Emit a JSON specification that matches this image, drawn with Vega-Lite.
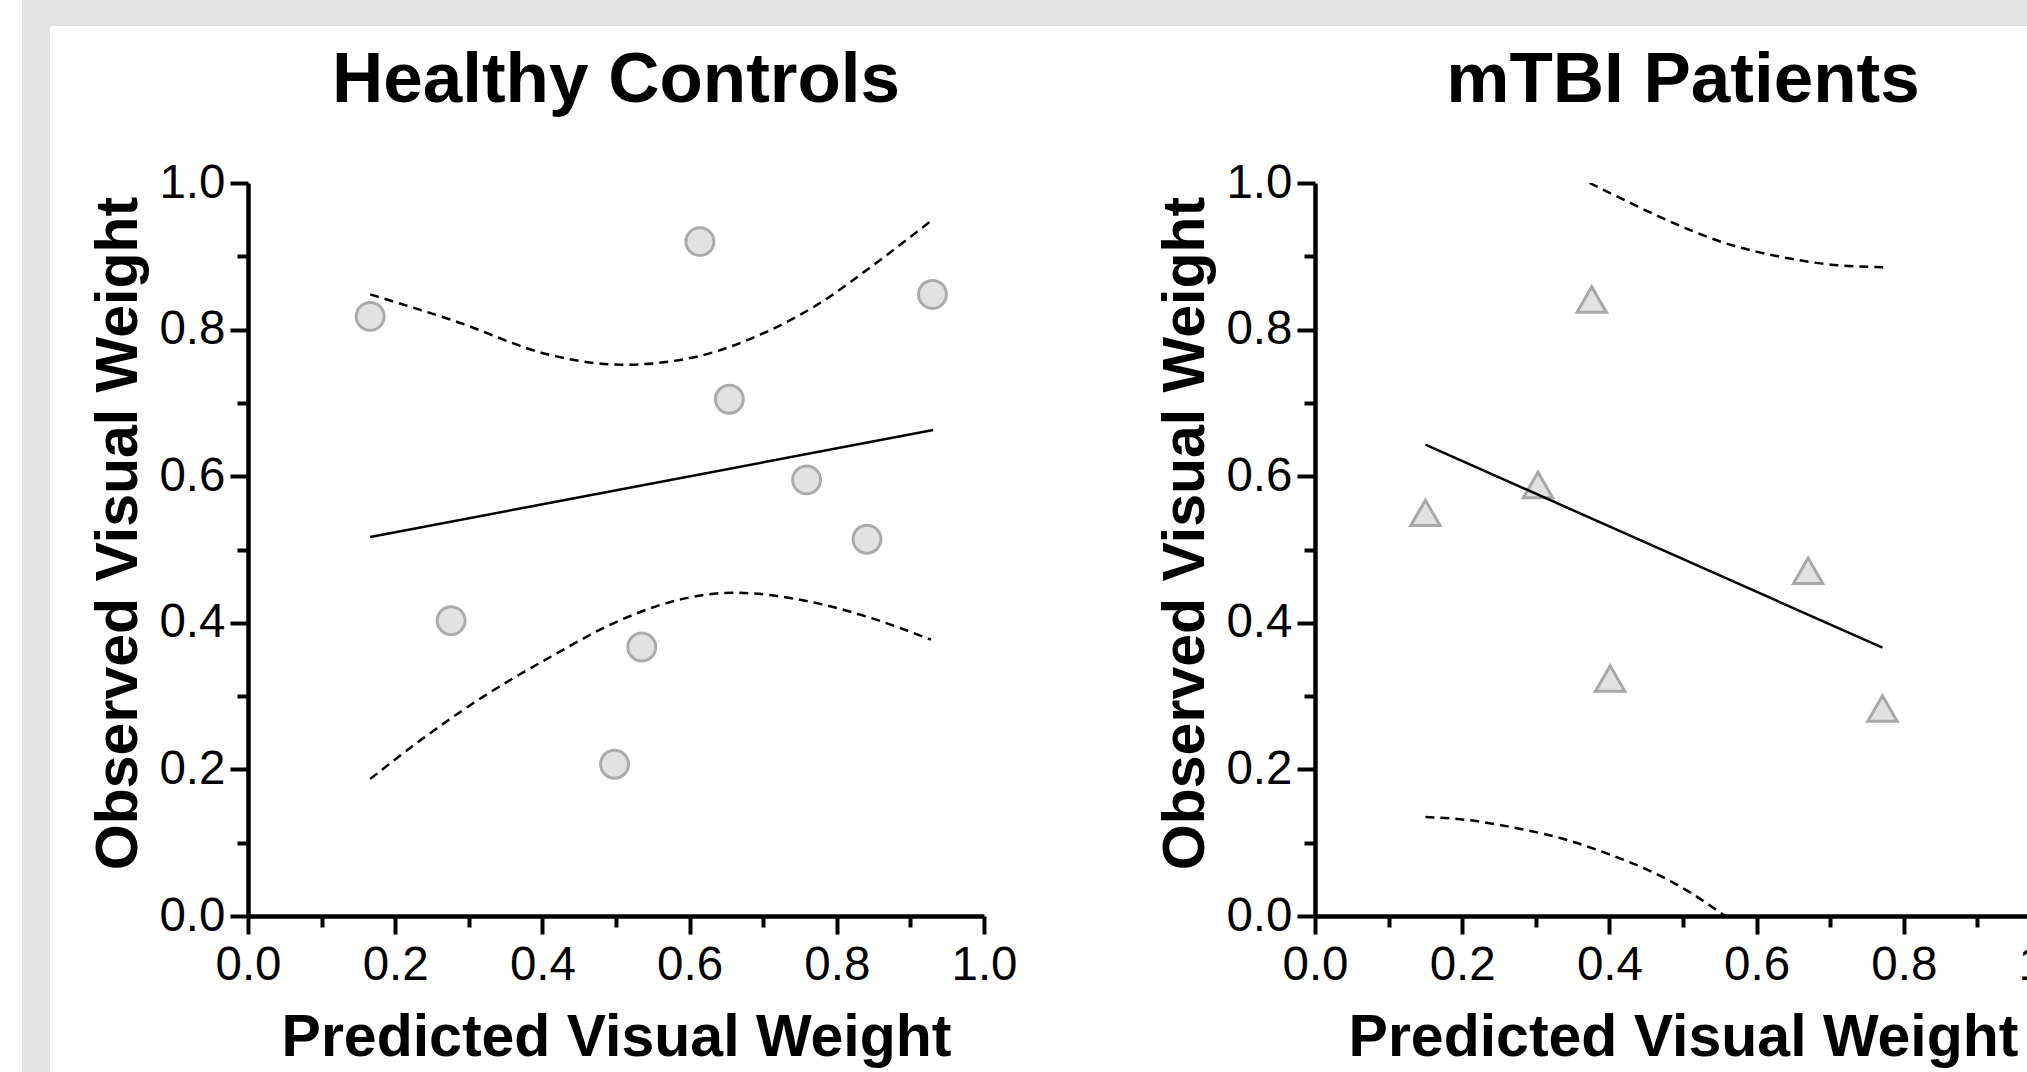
{
  "$schema": "https://vega.github.io/schema/vega-lite/v6.json",
  "background": "white",
  "padding": {"left": 22, "top": 0, "right": 0, "bottom": 0},
  "config": {
    "view": {"stroke": null},
    "axis": {
      "grid": false,
      "domainColor": "black",
      "domainWidth": 4.5,
      "tickColor": "black",
      "tickWidth": 4,
      "labelFont": "Liberation Sans",
      "labelFontSize": 47.5,
      "labelColor": "black",
      "titleFont": "Liberation Sans",
      "titleFontSize": 59,
      "titleFontWeight": "bold",
      "titleColor": "black",
      "labelFlush": false,
      "labelOverlap": false
    },
    "title": {
      "font": "Liberation Sans",
      "fontSize": 71,
      "fontWeight": "bold",
      "color": "black",
      "anchor": "middle",
      "frame": "group",
      "baseline": "alphabetic",
      "offset": 42.5
    }
  },
  "datasets": {
    "hc_pts": [
      {"x": 0.166, "y": 0.818}, {"x": 0.276, "y": 0.403}, {"x": 0.498, "y": 0.207},
      {"x": 0.535, "y": 0.367}, {"x": 0.614, "y": 0.920}, {"x": 0.654, "y": 0.705},
      {"x": 0.759, "y": 0.595}, {"x": 0.841, "y": 0.514}, {"x": 0.930, "y": 0.848}
    ],
    "hc_fit": [{"x": 0.166, "y": 0.517}, {"x": 0.931, "y": 0.663}],
    "hc_upper": [
      {"x": 0.166, "y": 0.848}, {"x": 0.280, "y": 0.812}, {"x": 0.412, "y": 0.765},
      {"x": 0.509, "y": 0.752}, {"x": 0.605, "y": 0.762}, {"x": 0.684, "y": 0.788},
      {"x": 0.772, "y": 0.833}, {"x": 0.851, "y": 0.889}, {"x": 0.930, "y": 0.950}
    ],
    "hc_lower": [
      {"x": 0.166, "y": 0.187}, {"x": 0.236, "y": 0.241}, {"x": 0.324, "y": 0.302},
      {"x": 0.412, "y": 0.354}, {"x": 0.500, "y": 0.401}, {"x": 0.588, "y": 0.432},
      {"x": 0.658, "y": 0.441}, {"x": 0.763, "y": 0.429}, {"x": 0.842, "y": 0.408},
      {"x": 0.928, "y": 0.377}
    ],
    "tbi_pts": [
      {"x": 0.150, "y": 0.550}, {"x": 0.303, "y": 0.588}, {"x": 0.376, "y": 0.841},
      {"x": 0.401, "y": 0.324}, {"x": 0.670, "y": 0.471}, {"x": 0.771, "y": 0.283}
    ],
    "tbi_fit": [{"x": 0.150, "y": 0.643}, {"x": 0.771, "y": 0.366}],
    "tbi_upper": [
      {"x": 0.373, "y": 1.0}, {"x": 0.426, "y": 0.974}, {"x": 0.470, "y": 0.953},
      {"x": 0.514, "y": 0.934}, {"x": 0.557, "y": 0.918}, {"x": 0.601, "y": 0.906},
      {"x": 0.645, "y": 0.897}, {"x": 0.689, "y": 0.890}, {"x": 0.772, "y": 0.885}
    ],
    "tbi_lower": [
      {"x": 0.150, "y": 0.135}, {"x": 0.207, "y": 0.131}, {"x": 0.268, "y": 0.121},
      {"x": 0.338, "y": 0.105}, {"x": 0.400, "y": 0.084}, {"x": 0.452, "y": 0.063},
      {"x": 0.505, "y": 0.035}, {"x": 0.557, "y": 0.0}
    ]
  },
  "spacing": 0,
  "hconcat": [
    {
      "width": 28, "height": 1072,
      "view": {"fill": "#e3e3e3", "stroke": null},
      "data": {"values": []},
      "mark": "point",
      "encoding": {}
    },
    {
      "spacing": 18,
      "vconcat": [
        {
          "width": 1977, "height": 26,
          "view": {"fill": "#e3e3e3", "stroke": null},
          "data": {"values": []},
          "mark": "point",
          "encoding": {}
        },
        {
          "spacing": 0,
          "hconcat": [
            {
              "width": 39, "height": 10,
              "data": {"values": []},
              "mark": "point",
              "encoding": {}
            },
            {
              "spacing": 331,
              "bounds": "flush",
              "hconcat": [
                {
                  "width": 736, "height": 733,
                  "title": {"text": "Healthy Controls"},
                  "encoding": {
                    "x": {"field": "x", "type": "quantitative",
                      "scale": {"domain": [0, 1], "nice": false, "zero": false},
                      "axis": {"title": "Predicted Visual Weight",
                        "values": [0, 0.1, 0.2, 0.3, 0.4, 0.5, 0.6, 0.7, 0.8, 0.9, 1],
                        "labelExpr": "round(datum.value*10) % 2 == 1 ? '' : format(datum.value, '.1f')",
                        "tickSize": {"condition": {"test": "round(datum.value*10) % 2 == 1", "value": 11}, "value": 18},
                        "labelPadding": 7.5, "titlePadding": 19}},
                    "y": {"field": "y", "type": "quantitative",
                      "scale": {"domain": [0, 1], "nice": false, "zero": false},
                      "axis": {"title": "Observed Visual Weight",
                        "values": [0, 0.1, 0.2, 0.3, 0.4, 0.5, 0.6, 0.7, 0.8, 0.9, 1],
                        "labelExpr": "round(datum.value*10) % 2 == 1 ? '' : format(datum.value, '.1f')",
                        "tickSize": {"condition": {"test": "round(datum.value*10) % 2 == 1", "value": 11}, "value": 18},
                        "labelPadding": 5, "titlePadding": 22, "titleAngle": 270, "titleBaseline": "alphabetic", "titleY": 350}}
                  },
                  "layer": [
                    {"data": {"name": "hc_pts"}, "encoding": {},
                      "mark": {"type": "point", "shape": "circle", "filled": true, "fill": "#e2e2e2", "stroke": "#ababab", "strokeWidth": 3, "size": 780, "opacity": 1}},
                    {"data": {"name": "hc_fit"}, "encoding": {},
                      "mark": {"type": "line", "color": "black", "strokeWidth": 2.5, "clip": true}},
                    {"data": {"name": "hc_upper"}, "encoding": {},
                      "mark": {"type": "line", "color": "black", "strokeWidth": 2.5, "strokeDash": [9, 6], "interpolate": "monotone", "clip": true}},
                    {"data": {"name": "hc_lower"}, "encoding": {},
                      "mark": {"type": "line", "color": "black", "strokeWidth": 2.5, "strokeDash": [9, 6], "interpolate": "monotone", "clip": true}}
                  ]
                },
                {
                  "width": 736, "height": 733,
                  "title": {"text": "mTBI Patients"},
                  "encoding": {
                    "x": {"field": "x", "type": "quantitative",
                      "scale": {"domain": [0, 1], "nice": false, "zero": false},
                      "axis": {"title": "Predicted Visual Weight",
                        "values": [0, 0.1, 0.2, 0.3, 0.4, 0.5, 0.6, 0.7, 0.8, 0.9, 1],
                        "labelExpr": "round(datum.value*10) % 2 == 1 ? '' : format(datum.value, '.1f')",
                        "tickSize": {"condition": {"test": "round(datum.value*10) % 2 == 1", "value": 11}, "value": 18},
                        "labelPadding": 7.5, "titlePadding": 19}},
                    "y": {"field": "y", "type": "quantitative",
                      "scale": {"domain": [0, 1], "nice": false, "zero": false},
                      "axis": {"title": "Observed Visual Weight",
                        "values": [0, 0.1, 0.2, 0.3, 0.4, 0.5, 0.6, 0.7, 0.8, 0.9, 1],
                        "labelExpr": "round(datum.value*10) % 2 == 1 ? '' : format(datum.value, '.1f')",
                        "tickSize": {"condition": {"test": "round(datum.value*10) % 2 == 1", "value": 11}, "value": 18},
                        "labelPadding": 5, "titlePadding": 22, "titleAngle": 270, "titleBaseline": "alphabetic", "titleY": 350}}
                  },
                  "layer": [
                    {"data": {"name": "tbi_pts"}, "encoding": {},
                      "mark": {"type": "point", "shape": "triangle-up", "filled": true, "fill": "#e2e2e2", "stroke": "#a8a8a8", "strokeWidth": 3, "size": 860, "opacity": 1}},
                    {"data": {"name": "tbi_fit"}, "encoding": {},
                      "mark": {"type": "line", "color": "black", "strokeWidth": 2.5, "clip": true}},
                    {"data": {"name": "tbi_upper"}, "encoding": {},
                      "mark": {"type": "line", "color": "black", "strokeWidth": 2.5, "strokeDash": [9, 6], "interpolate": "monotone", "clip": true}},
                    {"data": {"name": "tbi_lower"}, "encoding": {},
                      "mark": {"type": "line", "color": "black", "strokeWidth": 2.5, "strokeDash": [9, 6], "interpolate": "monotone", "clip": true}}
                  ]
                }
              ]
            }
          ]
        }
      ]
    }
  ]
}
